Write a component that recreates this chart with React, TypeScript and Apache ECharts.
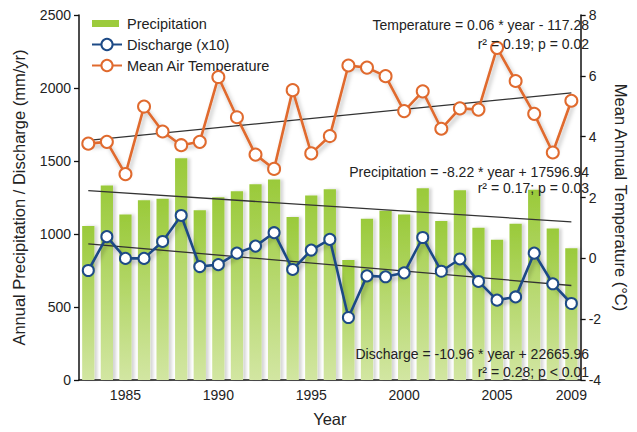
import React, { useEffect, useRef } from "react";
import * as echarts from "echarts";

// Annual series, 1983–2009
const years: string[] = [
  "1983", "1984", "1985", "1986", "1987", "1988", "1989", "1990", "1991",
  "1992", "1993", "1994", "1995", "1996", "1997", "1998", "1999", "2000",
  "2001", "2002", "2003", "2004", "2005", "2006", "2007", "2008", "2009",
];

// Annual precipitation (mm/yr)
const precipitation: number[] = [
  1055, 1332, 1134, 1232, 1242, 1518, 1163, 1252, 1292,
  1341, 1373, 1116, 1264, 1306, 822, 1104, 1160, 1134,
  1314, 1089, 1299, 1043, 960, 1070, 1303, 1037, 903,
];

// Discharge, scaled x10 (mm/yr)
const discharge: number[] = [
  750, 982, 833, 833, 949, 1127, 777, 790, 869,
  917, 1009, 757, 890, 963, 428, 713, 707, 734,
  976, 745, 829, 675, 547, 569, 869, 659, 524,
];

// Mean annual air temperature (°C)
const temperature: number[] = [
  3.77, 3.83, 2.77, 4.99, 4.17, 3.72, 3.83, 5.96, 4.64,
  3.41, 2.94, 5.53, 3.45, 4.02, 6.34, 6.27, 5.99, 4.84,
  5.49, 4.26, 4.93, 4.89, 6.92, 5.83, 4.75, 3.48, 5.18,
];

// Linear fits
const precipSlope = -8.22;
const precipIntercept = 17596.94;
const dischargeSlope = -10.96;
const dischargeIntercept = 22665.96;
const tempSlope = 0.06;
const tempTrendStart = 3.88;

const labelYears: string[] = ["1985", "1990", "1995", "2000", "2005", "2009"];

const FONT = "'Liberation Sans', Arial, Helvetica, sans-serif";
const ORANGE = "#e06a2e";
const BLUE = "#1d4a86";

function endpointsOnly(first: number, last: number): (number | null)[] {
  return years.map((_, i) => (i === 0 ? first : i === years.length - 1 ? last : null));
}

export default function App() {
  const ref = useRef<HTMLDivElement>(null);

  useEffect(() => {
    if (!ref.current) return;
    const chart = echarts.init(ref.current, undefined, { renderer: "svg" });

    const y0 = Number(years[0]);
    const y1 = Number(years[years.length - 1]);
    const precipTrend = endpointsOnly(
      +(precipSlope * y0 + precipIntercept).toFixed(2),
      +(precipSlope * y1 + precipIntercept).toFixed(2)
    );
    const dischargeTrend = endpointsOnly(
      +(dischargeSlope * y0 + dischargeIntercept).toFixed(2),
      +(dischargeSlope * y1 + dischargeIntercept).toFixed(2)
    );
    const tempTrend = endpointsOnly(tempTrendStart, +(tempTrendStart + tempSlope * (y1 - y0)).toFixed(2));

    const trendSeries = (name: string, data: (number | null)[], yAxisIndex: number) => ({
      name,
      type: "line",
      yAxisIndex,
      data,
      connectNulls: true,
      symbol: "none",
      silent: true,
      lineStyle: { color: "#333", width: 1.3 },
      z: 3,
    });

    const annotation = (text: string, y: number) => ({
      type: "text",
      x: 589,
      y,
      style: {
        text,
        align: "right",
        verticalAlign: "middle",
        fontFamily: FONT,
        fontSize: 14,
        fill: "#222",
      },
      z: 20,
    });

    const lineShadow = {
      shadowColor: "rgba(0,0,0,0.28)",
      shadowBlur: 4,
      shadowOffsetX: 2,
      shadowOffsetY: 3,
    };

    const axisLabel = { fontFamily: FONT, fontSize: 14, color: "#222", margin: 8 };

    chart.setOption({
      animation: false,
      backgroundColor: "#fff",
      textStyle: { fontFamily: FONT },
      grid: { left: 79, right: 41, top: 15, bottom: 48 },
      legend: {
        orient: "vertical",
        left: 86,
        top: 11,
        itemWidth: 30,
        itemHeight: 14,
        itemGap: 6,
        textStyle: { fontFamily: FONT, fontSize: 14.5, color: "#222" },
        data: [
          {
            name: "Precipitation",
            icon: "path://M0,0L0,0M30,14L30,14M0,3.5H27V10.5H0Z",
            itemStyle: { color: "#9ccb3c" },
          },
          { name: "Discharge (x10)" },
          { name: "Mean Air Temperature" },
        ],
      },
      xAxis: {
        type: "category",
        data: years,
        boundaryGap: true,
        name: "Year",
        nameLocation: "middle",
        nameGap: 30,
        nameTextStyle: { fontFamily: FONT, fontSize: 16.5, color: "#222" },
        axisLine: { lineStyle: { color: "#111", width: 1.5 } },
        axisTick: { interval: 0, length: 5, lineStyle: { color: "#111", width: 1.3 } },
        axisLabel: {
          ...axisLabel,
          interval: (_i: number, value: string) => labelYears.includes(value),
        },
      },
      yAxis: [
        {
          type: "value",
          min: 0,
          max: 2500,
          interval: 500,
          name: "Annual Precipitation / Discharge (mm/yr)",
          nameLocation: "middle",
          nameGap: 52,
          nameTextStyle: { fontFamily: FONT, fontSize: 16.5, color: "#222" },
          axisLine: { show: true, lineStyle: { color: "#111", width: 1.5 } },
          axisTick: { show: true, length: 5, lineStyle: { color: "#111", width: 1.3 } },
          axisLabel: { ...axisLabel, formatter: (v: number) => String(v) },
          splitLine: { show: false },
        },
        {
          type: "value",
          min: -4,
          max: 8,
          interval: 2,
          position: "right",
          name: "Mean Annual Temperature (°C)",
          nameLocation: "middle",
          nameGap: 26,
          nameRotate: -90,
          nameTextStyle: { fontFamily: FONT, fontSize: 16.5, color: "#222" },
          axisLine: { show: true, lineStyle: { color: "#111", width: 1.5 } },
          axisTick: { show: true, length: 5, lineStyle: { color: "#111", width: 1.3 } },
          axisLabel: { ...axisLabel, formatter: (v: number) => String(v) },
          splitLine: { show: false },
        },
      ],
      series: [
        {
          name: "Precipitation",
          type: "bar",
          data: precipitation,
          barWidth: "66%",
          itemStyle: {
            color: new echarts.graphic.LinearGradient(0, 0, 0, 1, [
              { offset: 0, color: "#9aca3a" },
              { offset: 1, color: "#d2e6a2" },
            ]),
            shadowColor: "rgba(0,0,0,0.16)",
            shadowBlur: 3,
            shadowOffsetX: 3,
          },
          z: 1,
        },
        trendSeries("precipTrend", precipTrend, 0),
        trendSeries("dischargeTrend", dischargeTrend, 0),
        trendSeries("tempTrend", tempTrend, 1),
        {
          name: "Discharge (x10)",
          type: "line",
          data: discharge,
          symbol: "circle",
          symbolSize: 11,
          lineStyle: { color: BLUE, width: 2.6, ...lineShadow },
          itemStyle: { color: "#fff", borderColor: BLUE, borderWidth: 2 },
          z: 5,
        },
        {
          name: "Mean Air Temperature",
          type: "line",
          yAxisIndex: 1,
          data: temperature,
          symbol: "circle",
          symbolSize: 12,
          lineStyle: { color: ORANGE, width: 2.6, ...lineShadow },
          itemStyle: { color: "#fff", borderColor: ORANGE, borderWidth: 2 },
          z: 5,
        },
      ],
      graphic: [
        annotation("Temperature = 0.06 * year - 117.28", 25),
        annotation("r² = 0.19; p = 0.02", 44),
        annotation("Precipitation = -8.22 * year + 17596.94", 172),
        annotation("r² = 0.17; p = 0.03", 188),
        annotation("Discharge = -10.96 * year + 22665.96", 354),
        annotation("r² = 0.28; p < 0.01", 372),
      ],
    });

    return () => chart.dispose();
  }, []);

  return (
    <div
      ref={ref}
      style={{ position: "fixed", left: 0, top: 0, width: 637, height: 432 }}
    />
  );
}
